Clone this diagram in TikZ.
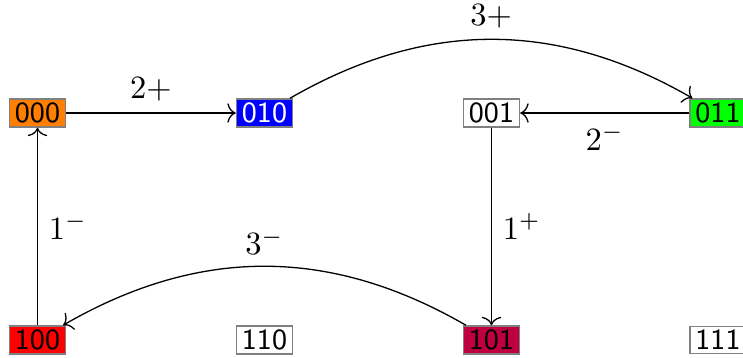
\documentclass[tikz,border=0pt]{standalone}
\usepackage{xcolor}
\usetikzlibrary{arrows.meta}
\begin{document}
\begin{tikzpicture}[x=0.30769pt,y=-0.30769pt,
  state/.style={draw=gray,line width=0.4pt,font=\small\sffamily,inner xsep=1.7pt,inner ysep=1.2pt,minimum height=8.2pt},
  edge/.style={-{Computer Modern Rightarrow[length=2.6pt,width=6pt]},black}]
\useasboundingbox (0,0) rectangle (743,358);
\node[state,fill=orange] (n000) at (37.5,113) {000};
\node[state,fill=blue,text=white] (n010) at (264.5,113) {010};
\node[state] (n001) at (491.5,113) {001};
\node[state,fill=green] (n011) at (718,113) {011};
\node[state,fill=red] (n100) at (37.5,340) {100};
\node[state] (n110) at (264.5,340) {110};
\node[state,fill=purple] (n101) at (491.5,340) {101};
\node[state] (n111) at (718,340) {111};
\draw[edge] (n000) -- node[above] {$2+$} (n010);
\draw[edge] (n010) to[bend left=30] node[above] {$3+$} (n011);
\draw[edge] (n011) -- node[below] {$2^-$} (n001);
\draw[edge] (n100) -- node[right] {$1^-$} (n000);
\draw[edge] (n001) -- node[right] {$1^+$} (n101);
\draw[edge] (n101) to[bend right=30] node[above] {$3^-$} (n100);
\end{tikzpicture}
\end{document}
